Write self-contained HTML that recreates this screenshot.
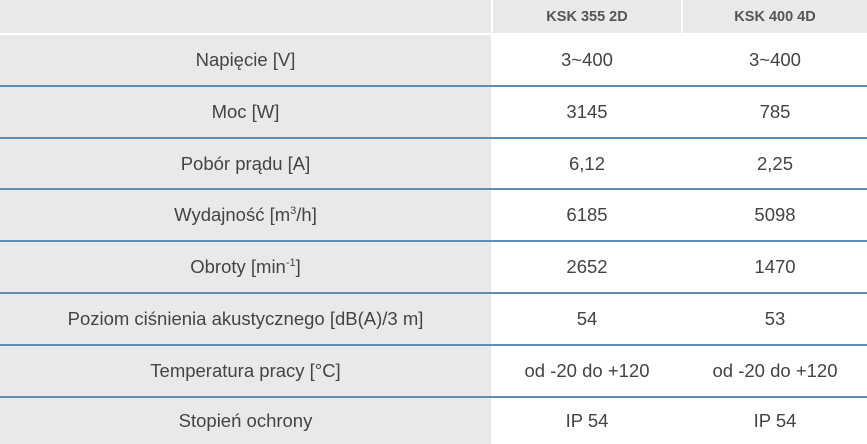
<!DOCTYPE html>
<html><head><style>
body{margin:0;width:867px;height:444px;background:#fff;font-family:"Liberation Sans",sans-serif;overflow:hidden;position:relative}
.c{position:absolute;display:flex;align-items:center;justify-content:center;color:#444;font-size:18.5px}
.g{background:#e9e9e9}
.h{font-weight:bold;font-size:14.5px;color:#555}
.l{position:absolute;left:0;width:867px;height:2px;background:#5f8db0}
sup{font-size:11px;vertical-align:7px;line-height:0}
</style></head><body>
<div class="c g" style="left:0;top:0;width:491px;height:33px"></div>
<div class="c g h" style="left:493px;top:0;width:188px;height:33px">KSK 355 2D</div>
<div class="c g h" style="left:683px;top:0;width:184px;height:33px">KSK 400 4D</div>
<div class="g" style="position:absolute;left:0;top:35px;width:491px;height:409px"></div>
<div id="rows"></div>
<script>
const r=[["Napięcie [V]","3~400","3~400"],["Moc [W]","3145","785"],["Pobór prądu [A]","6,12","2,25"],["Wydajność [m<sup>3</sup>/h]","6185","5098"],["Obroty [min<sup>-1</sup>]","2652","1470"],["Poziom ciśnienia akustycznego [dB(A)/3 m]","54","53"],["Temperatura pracy [°C]","od -20 do +120","od -20 do +120"],["Stopień ochrony","IP 54","IP 54"]];
let h="";const tops=[35,87,139,190,242,294,346,398],bot=[85,137,188,240,292,344,396,444];
r.forEach((x,i)=>{const t=tops[i],hh=bot[i]-t;
h+=`<div class="c" style="left:0;top:${t}px;width:491px;height:${hh}px"><span>${x[0]}</span></div><div class="c" style="left:493px;top:${t}px;width:188px;height:${hh}px"><span>${x[1]}</span></div><div class="c" style="left:683px;top:${t}px;width:184px;height:${hh}px"><span>${x[2]}</span></div>`;
if(i<7)h+=`<div class="l" style="top:${bot[i]}px"></div>`;});
document.getElementById("rows").innerHTML=h;
</script>
</body></html>
